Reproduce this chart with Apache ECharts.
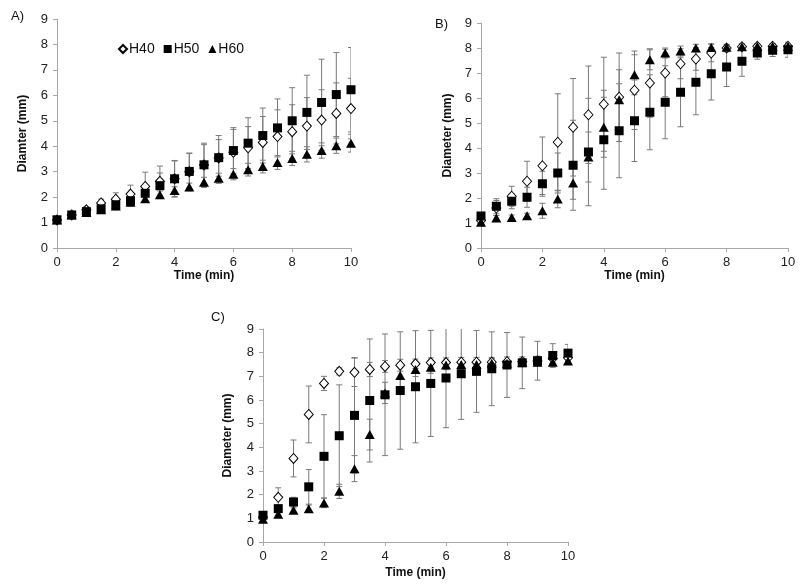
<!DOCTYPE html>
<html><head><meta charset="utf-8">
<script src="https://cdn.jsdelivr.net/npm/echarts@6/dist/echarts.min.js"></script>
<style>html,body{margin:0;padding:0;background:#fff}#c{width:800px;height:584px}</style>
</head><body><div id="c"></div>
<script>
const time = [0,0.5,1,1.5,2,2.5,3,3.5,4,4.5,5,5.5,6,6.5,7,7.5,8,8.5,9,9.5,10];
const seriesNames = ['H40','H50','H60'];
const panelLabels = ['A)','B)','C)'];
const yTitles = ['Diamter (mm)','Diameter (mm)','Diameter (mm)'];
const xTitle = 'Time (min)';

const A_H40 = [1.1,1.3,1.5,1.77,1.92,2.12,2.42,2.62,2.72,3.0,3.26,3.54,3.76,3.94,4.15,4.38,4.57,4.79,5.03,5.29,5.48];
const A_H40_sd = [0.05,0.1,0.12,0.15,0.25,0.35,0.56,0.6,0.7,0.72,0.8,0.72,0.9,0.83,1.02,1.05,1.06,1.12,1.19,1.2,1.19];
const A_H50 = [1.11,1.3,1.43,1.54,1.7,1.86,2.15,2.45,2.72,3.01,3.27,3.55,3.83,4.12,4.42,4.72,5.0,5.33,5.72,6.03,6.22];
const A_H50_sd = [0.08,0.1,0.1,0.15,0.2,0.2,0.3,0.5,0.72,0.72,0.85,0.87,0.9,1.0,1.08,1.14,1.3,1.46,1.7,1.65,1.66];
const A_H60 = [1.1,1.3,1.4,1.5,1.65,1.8,1.94,2.09,2.26,2.4,2.58,2.74,2.9,3.08,3.2,3.36,3.52,3.68,3.83,4.02,4.12];
const A_H60_sd = [0.05,0.05,0.08,0.1,0.1,0.12,0.15,0.15,0.15,0.15,0.2,0.2,0.22,0.25,0.25,0.27,0.28,0.3,0.3,0.3,0.35];

const B_H40 = [1.1,1.6,2.07,2.67,3.29,4.23,4.83,5.33,5.75,6.03,6.31,6.6,7.0,7.37,7.56,7.8,8.0,8.05,8.07,8.07,8.07];
const B_H40_sd = [0.1,0.3,0.4,0.8,1.15,1.94,1.95,1.95,1.88,1.77,1.57,1.37,0.95,0.6,0.45,0.35,0.15,0.12,0.1,0.1,0.1];
const B_H50 = [1.28,1.67,1.87,2.03,2.57,3.0,3.31,3.84,4.33,4.69,5.09,5.43,5.83,6.23,6.63,6.97,7.24,7.47,7.8,7.91,7.93];
const B_H50_sd = [0.15,0.3,0.3,0.4,0.5,0.8,1.8,2.15,1.98,1.88,1.63,1.5,1.46,1.38,1.3,1.05,0.78,0.6,0.25,0.25,0.3];
const B_H60 = [1.03,1.2,1.22,1.29,1.49,1.96,2.6,3.64,4.83,5.93,6.93,7.53,7.8,7.88,8.0,8.02,8.03,8.05,8.07,8.07,8.07];
const B_H60_sd = [0.15,0.1,0.1,0.1,0.3,0.35,0.65,1.0,1.2,1.2,0.8,0.4,0.2,0.2,0.15,0.15,0.1,0.1,0.08,0.08,0.08];

const C_H40 = [1.05,1.89,3.53,5.39,6.7,7.21,7.17,7.29,7.42,7.47,7.53,7.58,7.58,7.6,7.6,7.6,7.62,7.62,7.65,7.75,7.78];
const C_H40_sd = [0.1,0.4,0.78,1.2,0.3,0.15,0.6,0.3,0.25,0.25,0.2,0.2,0.2,0.2,0.2,0.2,0.2,0.2,0.2,0.2,0.2];
const C_H50 = [1.13,1.41,1.69,2.33,3.62,4.49,5.35,5.98,6.22,6.4,6.56,6.7,6.93,7.11,7.21,7.32,7.48,7.57,7.66,7.88,7.98];
const C_H50_sd = [0.15,0.15,0.2,0.73,1.76,2.15,2.44,2.6,2.57,2.48,2.37,2.24,2.1,1.93,1.73,1.56,1.37,1.09,0.82,0.5,0.37];
const C_H60 = [0.96,1.17,1.34,1.41,1.65,2.14,3.1,4.54,6.3,7.04,7.29,7.38,7.48,7.5,7.5,7.55,7.55,7.6,7.6,7.6,7.65];
const C_H60_sd = [0.1,0.1,0.1,0.15,0.2,0.3,0.55,0.65,0.45,0.5,0.3,0.25,0.2,0.2,0.2,0.2,0.15,0.15,0.15,0.15,0.15];

const panels = [
  [[A_H40,A_H40_sd],[A_H50,A_H50_sd],[A_H60,A_H60_sd]],
  [[B_H40,B_H40_sd],[B_H50,B_H50_sd],[B_H60,B_H60_sd]],
  [[C_H40,C_H40_sd],[C_H50,C_H50_sd],[C_H60,C_H60_sd]]
];

const FONT = 'Liberation Sans, Arial, sans-serif';
const grids = [
  {left:57, top:19, width:294, height:229},
  {left:481, top:23, width:307, height:225},
  {left:263, top:329, width:305, height:213}
];
const yGaps = [28, 27, 29];
const xGaps = [21, 21, 25];
const labelPos = [{left:6,top:5},{left:430,top:13},{left:206,top:306}];

const symbols = [
  {symbol:'diamond', size:[9,10], itemStyle:{color:'#fff', borderColor:'#000', borderWidth:1, opacity:1}},
  {symbol:'rect', size:9, itemStyle:{color:'#000', borderColor:'#000', borderWidth:0, opacity:1}},
  {symbol:'triangle', size:[10,9], itemStyle:{color:'#000', borderColor:'#000', borderWidth:0, opacity:1}}
];

function errRender(params, api){
  const x = api.value(0), lo = api.value(1), hi = api.value(2);
  const p1 = api.coord([x, hi]), p2 = api.coord([x, lo]);
  const w = 3;
  const st = {stroke:'#7a7a7a', lineWidth:1};
  return {type:'group', children:[
    {type:'line', shape:{x1:p1[0],y1:p1[1],x2:p2[0],y2:p2[1]}, style:st},
    {type:'line', shape:{x1:p1[0]-w,y1:p1[1],x2:p1[0]+w,y2:p1[1]}, style:st},
    {type:'line', shape:{x1:p2[0]-w,y1:p2[1],x2:p2[0]+w,y2:p2[1]}, style:st}
  ]};
}

const xAxis = [], yAxis = [], series = [], title = [];
grids.forEach((g, i) => {
  xAxis.push({type:'value', gridIndex:i, min:0, max:10, interval:2,
    name:xTitle, nameLocation:'middle', nameGap:xGaps[i],
    nameTextStyle:{fontFamily:FONT, fontSize:12, fontWeight:'bold', color:'#111'},
    axisLine:{lineStyle:{color:'#a8a8a8'}}, axisTick:{show:true, length:4, lineStyle:{color:'#a8a8a8'}},
    axisLabel:{fontFamily:FONT, fontSize:13, color:'#222', margin:8},
    splitLine:{show:false}});
  yAxis.push({type:'value', gridIndex:i, min:0, max:9, interval:1,
    name:yTitles[i], nameLocation:'middle', nameGap:yGaps[i],
    nameTextStyle:{fontFamily:FONT, fontSize:12, fontWeight:'bold', color:'#111'},
    axisLine:{show:true, lineStyle:{color:'#a8a8a8'}}, axisTick:{show:true, length:4, lineStyle:{color:'#a8a8a8'}},
    axisLabel:{fontFamily:FONT, fontSize:13, color:'#222', margin:9},
    splitLine:{show:false}});
  title.push({text:panelLabels[i], left:labelPos[i].left, top:labelPos[i].top,
    textStyle:{fontFamily:FONT, fontSize:13, fontWeight:'normal', color:'#111'}});
  panels[i].forEach((pair, k) => {
    const vals = pair[0], sd = pair[1];
    series.push({type:'custom', name:'err'+i+k, xAxisIndex:i, yAxisIndex:i, clip:true, z:1,
      renderItem:errRender, encode:{x:0, y:[1,2]}, silent:true,
      data: time.map((t, j) => [t, vals[j]-sd[j], vals[j]+sd[j]])});
  });
  panels[i].forEach((pair, k) => {
    const vals = pair[0];
    series.push({type:'scatter', name:seriesNames[k], xAxisIndex:i, yAxisIndex:i, z:2+k,
      symbol:symbols[k].symbol, symbolSize:symbols[k].size, itemStyle:symbols[k].itemStyle,
      data: time.map((t, j) => [t, vals[j]])});
  });
});

const chart = echarts.init(document.getElementById('c'), null, {renderer:'canvas'});
chart.setOption({
  animation:false,
  backgroundColor:'#fff',
  title:title,
  grid:grids,
  xAxis:xAxis, yAxis:yAxis,
  legend:{data:seriesNames, left:113, top:37, itemGap:9, itemWidth:8, itemHeight:8,
    textStyle:{fontFamily:FONT, fontSize:14, color:'#111', padding:[0,0,0,-3]}},
  series:series
});
</script></body></html>
